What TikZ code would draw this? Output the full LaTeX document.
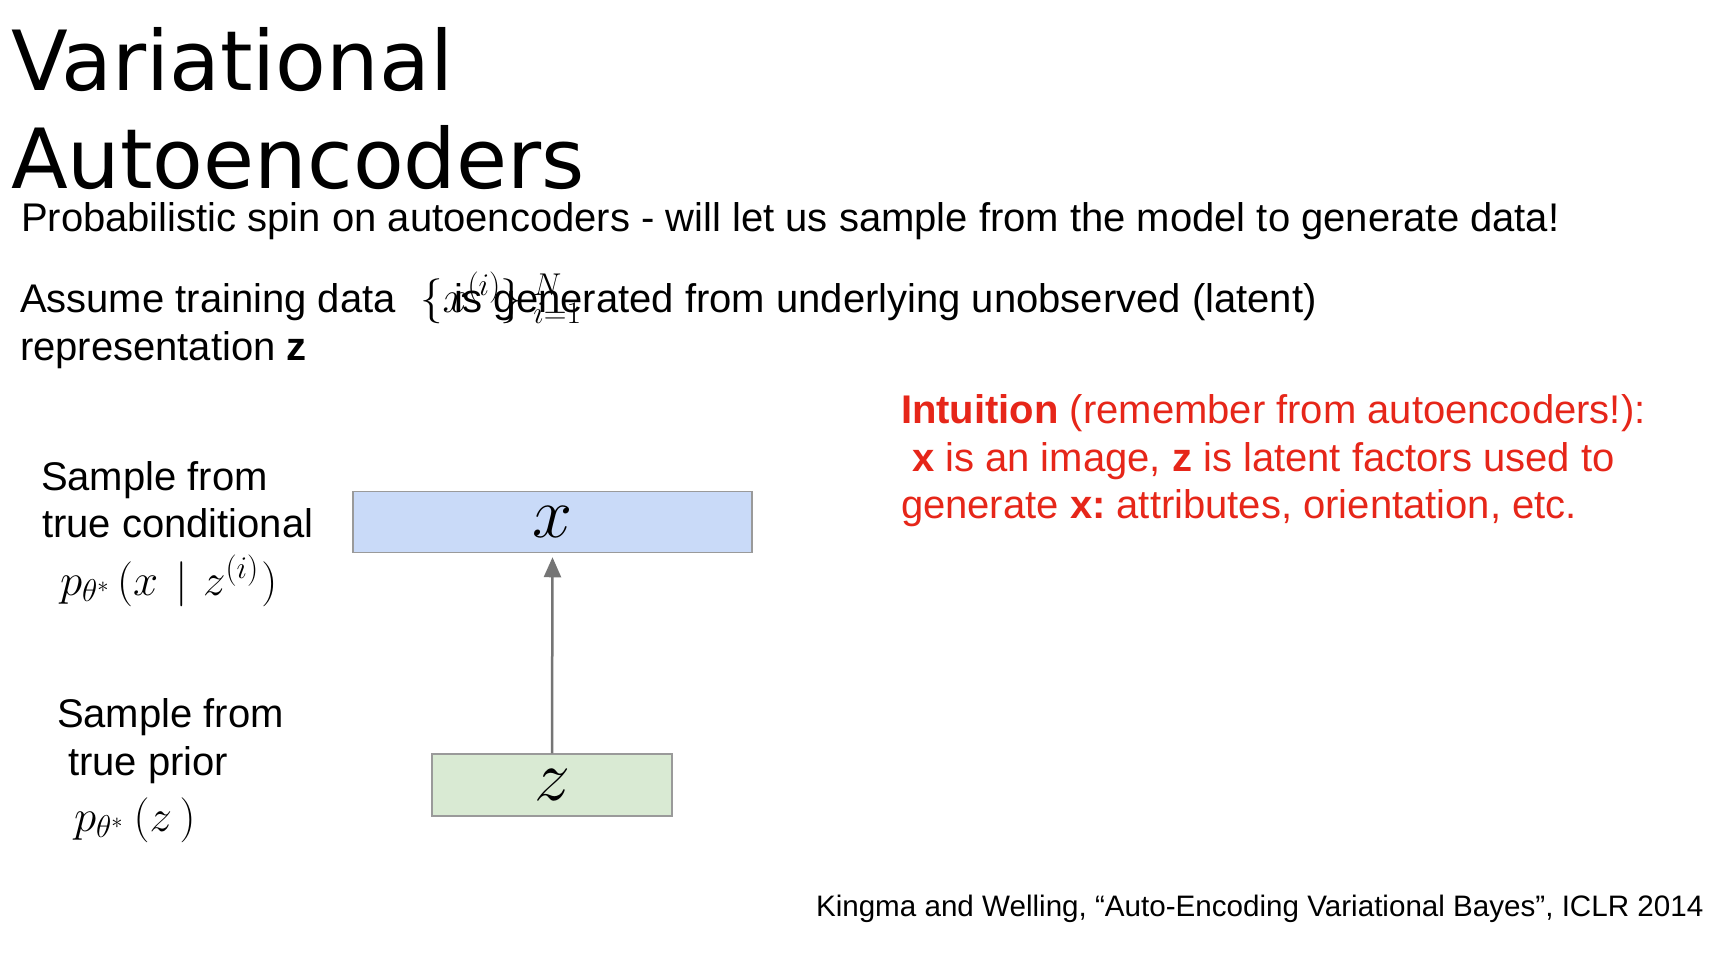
\documentclass[tikz,border=0pt]{standalone}
\usepackage{fix-cm}
\usepackage[no-math]{fontspec}
\setmainfont{Liberation Sans}
\newfontfamily\titlefont{DejaVu Sans}
\usetikzlibrary{arrows.meta}
\definecolor{boxline}{HTML}{9A9A9A}
\definecolor{xfill}{HTML}{C9DAF8}
\definecolor{zfill}{HTML}{D9EAD3}
\definecolor{arrowgray}{HTML}{757575}
\definecolor{intred}{RGB}{230,38,25}
\tikzset{
  txt/.style={inner sep=0pt, outer sep=0pt, anchor=base west},
  titletxt/.style={txt, font=\titlefont\fontsize{83}{98}\selectfont},
  body/.style={txt, font=\fontsize{40}{48}\selectfont\frenchspacing},
  redtxt/.style={body, text=intred},
  mathlbl/.style={txt, font=\fontsize{45}{50}\selectfont},
  foot/.style={txt, font=\fontsize{29.6}{35}\selectfont\frenchspacing},
  varbox/.style={draw=boxline, line width=1.5pt, inner sep=0pt, font=\fontsize{72}{78}\selectfont},
  genarrow/.style={draw=arrowgray, line width=2.5pt, -{Triangle[length=20pt,width=17pt]}, shorten >=4pt}
}
\begin{document}
\begin{tikzpicture}[x=1pt,y=-1pt]
\fill[white] (0,0) rectangle (1718,964);
\path[use as bounding box] (0,0) rectangle (1718,964);

% title
\node[titletxt] (t1) at (11,90) {Variational};
\node[titletxt] (t2) at (11,188) {Autoencoders};

% body lines
\node[body] (l1) at (21,231) {Probabilistic spin on autoencoders - will let us sample from the model to generate data!};
\node[body] (l2a) at (20,312) {Assume training data};
\node[mathlbl] (data) at (420,312) {$\{x^{(i)}\}\mkern4mu{}_{i=1}^{N}$};
\node[body] (l2b) at (454,312) {is generated from underlying unobserved (latent)};
\node[body] (l3) at (20,360) {representation \textbf{z}};

% left labels
\node[body] (s1a) at (41,490) {Sample from};
\node[body] (s1b) at (42,537) {true conditional};
\node[mathlbl] (p1) at (60,595) {$p_{\theta^*}\mkern3mu(x\mkern2mu\mid\mkern1mu z^{(i)}\mkern1mu)$};
\node[body] (s2a) at (57,727) {Sample from};
\node[body] (s2b) at (68,775) {true prior};
\node[mathlbl] (p2) at (74,831) {$p_{\theta^*}\mkern4mu(z\mkern3mu)$};

% boxes
\node[varbox, fill=xfill, minimum width=399pt, minimum height=61pt] (x) at (552.5,522) {$x$};
\node[varbox, fill=zfill, minimum width=240pt, minimum height=62pt] (z) at (552,785) {$z$};
\draw[genarrow] (z.north) -- (x.south);

% intuition
\node[redtxt] (r1) at (901,423) {\textbf{Intuition} (remember from autoencoders!):};
\node[redtxt] (r2) at (912,471) {\textbf{x} is an image, \textbf{z} is latent factors used to};
\node[redtxt] (r3) at (901,518) {generate \textbf{x:} attributes, orientation, etc.};

% footer
\node[foot] (ref) at (816,916) {Kingma and Welling, “Auto-Encoding Variational Bayes”, ICLR 2014};
\end{tikzpicture}
\end{document}
